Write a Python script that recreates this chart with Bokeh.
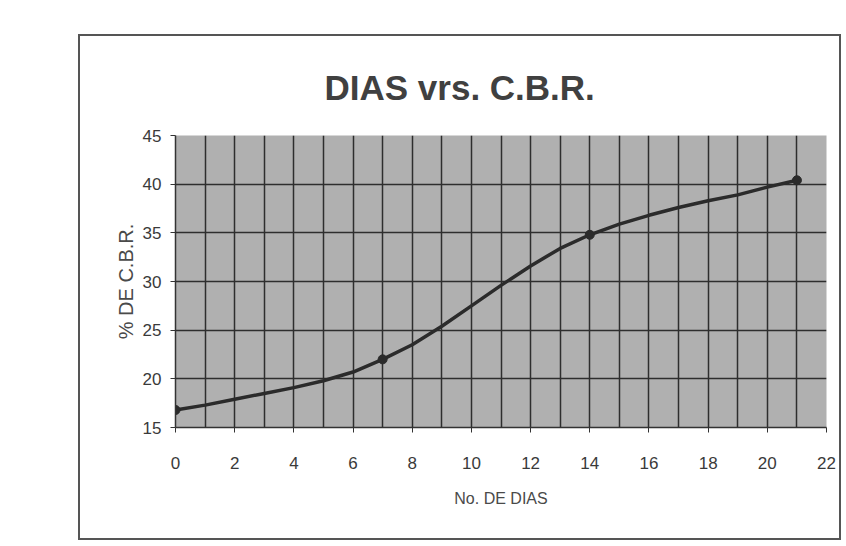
from bokeh.plotting import figure
from bokeh.models import Range1d, FixedTicker, Title
from bokeh.embed import file_html
from bokeh.resources import INLINE

# measured points (days, % CBR)
dias = [0, 7, 14, 21]
cbr = [16.8, 22.0, 34.8, 40.4]

# smoothed trend line at each day
curve_dias = list(range(0, 22))
curve_cbr = [16.8, 17.3, 17.9, 18.5, 19.1, 19.8, 20.7, 22.0, 23.5, 25.4,
             27.5, 29.6, 31.6, 33.4, 34.8, 35.9, 36.8, 37.6, 38.3, 38.9,
             39.7, 40.4]

x_ticks = [0, 2, 4, 6, 8, 10, 12, 14, 16, 18, 20, 22]
x_grid = list(range(0, 23))
y_ticks = [15, 20, 25, 30, 35, 40, 45]

TXT = "#3a3a3a"
FONT = "Liberation Sans"

p = figure(width=763, height=506, output_backend="svg", toolbar_location=None,
           x_range=Range1d(0, 22), y_range=Range1d(15, 45),
           min_border_left=95, min_border_right=17,
           min_border_top=98, min_border_bottom=115,
           background_fill_color="#b0b0b0", border_fill_color="white")
p.margin = (34, 0, 0, 78)
p.styles = {"border": "2px solid #555"}
p.outline_line_color = None

p.title = Title(text="DIAS vrs. C.B.R.", align="left", offset=149,
                text_font=FONT, text_font_size="35px", text_font_style="bold",
                text_color="#404040", text_line_height=1.0)
p.title.standoff = 58

p.xaxis.ticker = FixedTicker(ticks=x_ticks)
p.yaxis.ticker = FixedTicker(ticks=y_ticks)
p.xgrid.ticker = FixedTicker(ticks=x_grid)

for ax in (p.xaxis[0], p.yaxis[0]):
    ax.axis_line_color = "#333333"
    ax.axis_line_width = 1.5
    ax.major_tick_line_color = "#333333"
    ax.major_tick_out = 5
    ax.major_tick_in = 0
    ax.minor_tick_line_color = None
    ax.major_label_text_font = FONT
    ax.major_label_text_font_size = "17px"
    ax.major_label_text_color = TXT
    ax.axis_label_text_font = FONT
    ax.axis_label_text_font_style = "normal"
    ax.axis_label_text_color = "#4a4a4a"

p.xaxis.axis_label = "No. DE DIAS"
p.xaxis.axis_label_text_font_size = "16px"
p.xaxis.major_label_standoff = 24
p.xaxis.axis_label_standoff = 18
p.yaxis.axis_label = "% DE C.B.R."
p.yaxis.axis_label_text_font_size = "20px"
p.yaxis.major_label_standoff = 9
p.yaxis.axis_label_standoff = 3

p.xgrid.grid_line_color = "#2e2e2e"
p.xgrid.grid_line_width = 1.5
p.ygrid.grid_line_color = "#2e2e2e"
p.ygrid.grid_line_width = 1.5

p.line(curve_dias, curve_cbr, line_color="#2b2b2b", line_width=3.5)
p.scatter(dias, cbr, marker="circle", size=9, fill_color="#2b2b2b", line_color="#2b2b2b")

open("out.html", "w").write(file_html(p, INLINE))
